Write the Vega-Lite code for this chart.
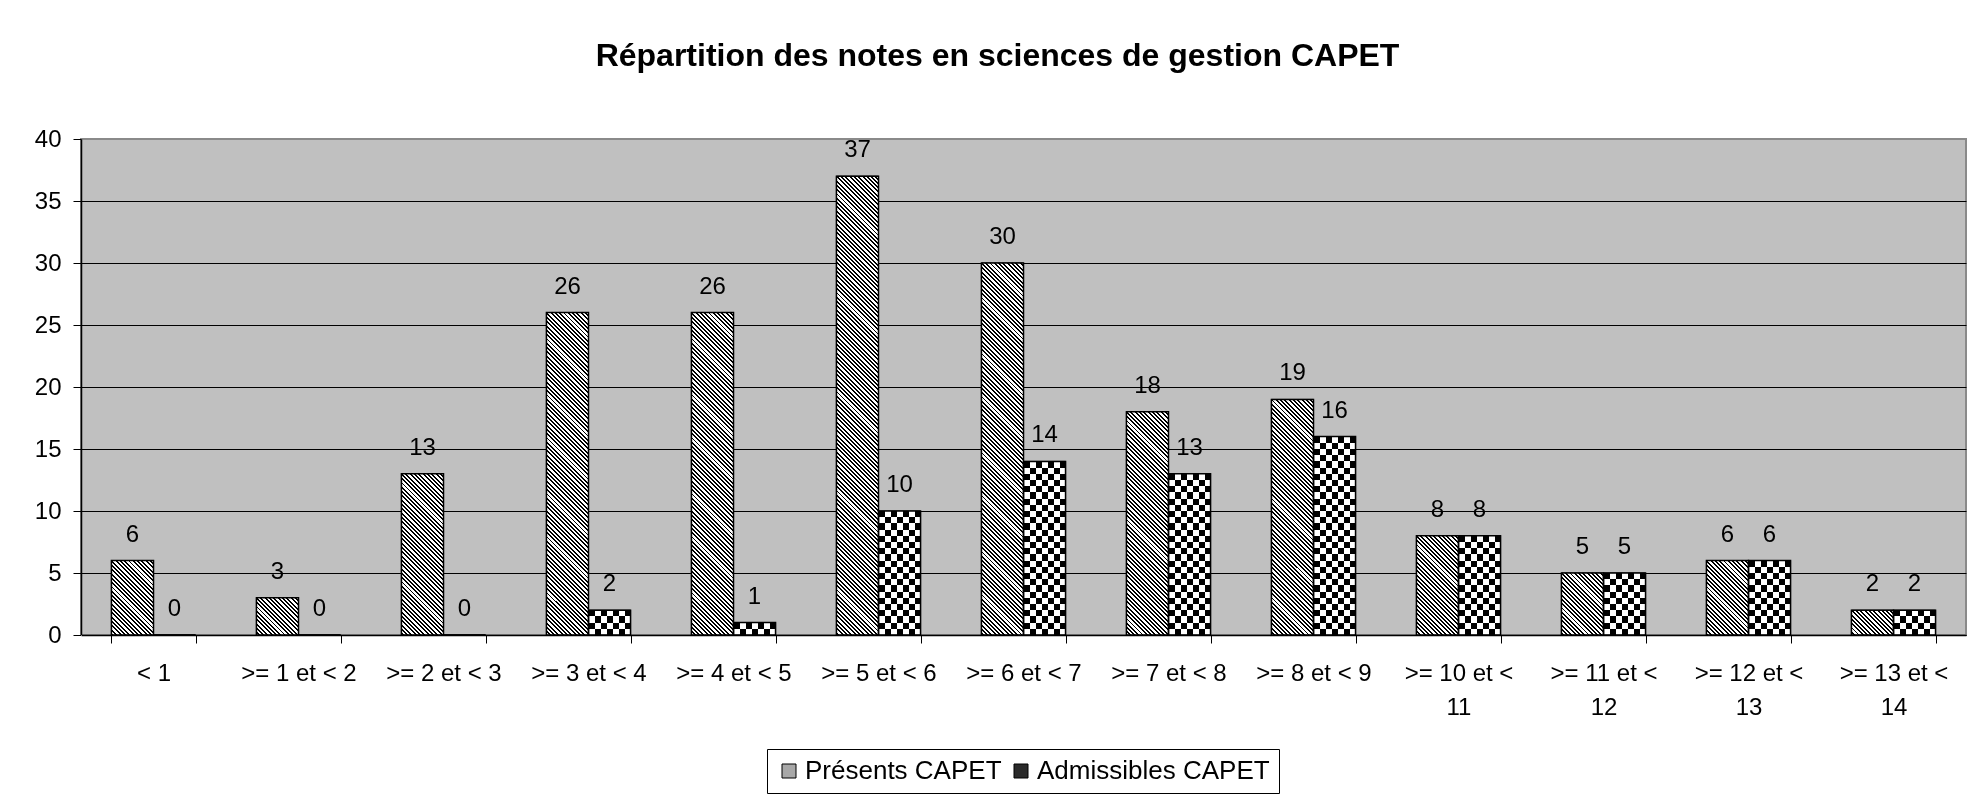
{
"$schema": "https://vega.github.io/schema/vega-lite/v6.json",
"width": 1885,
"height": 496,
"autosize": {"type": "none"},
"padding": {"left": 81, "top": 139, "right": 2, "bottom": 165},
"background": "white",
"title": {"text": "Répartition des notes en sciences de gestion CAPET", "font": "Liberation Sans", "fontSize": 32, "fontWeight": "bold", "color": "black", "anchor": "middle", "frame": "group", "baseline": "alphabetic", "offset": 29, "dx": -26},
"data": {"values": [
{"cat": "< 1", "series": "Présents CAPET", "value": 6},
{"cat": "< 1", "series": "Admissibles CAPET", "value": 0},
{"cat": ">= 1 et < 2", "series": "Présents CAPET", "value": 3},
{"cat": ">= 1 et < 2", "series": "Admissibles CAPET", "value": 0},
{"cat": ">= 2 et < 3", "series": "Présents CAPET", "value": 13},
{"cat": ">= 2 et < 3", "series": "Admissibles CAPET", "value": 0},
{"cat": ">= 3 et < 4", "series": "Présents CAPET", "value": 26},
{"cat": ">= 3 et < 4", "series": "Admissibles CAPET", "value": 2},
{"cat": ">= 4 et < 5", "series": "Présents CAPET", "value": 26},
{"cat": ">= 4 et < 5", "series": "Admissibles CAPET", "value": 1},
{"cat": ">= 5 et < 6", "series": "Présents CAPET", "value": 37},
{"cat": ">= 5 et < 6", "series": "Admissibles CAPET", "value": 10},
{"cat": ">= 6 et < 7", "series": "Présents CAPET", "value": 30},
{"cat": ">= 6 et < 7", "series": "Admissibles CAPET", "value": 14},
{"cat": ">= 7 et < 8", "series": "Présents CAPET", "value": 18},
{"cat": ">= 7 et < 8", "series": "Admissibles CAPET", "value": 13},
{"cat": ">= 8 et < 9", "series": "Présents CAPET", "value": 19},
{"cat": ">= 8 et < 9", "series": "Admissibles CAPET", "value": 16},
{"cat": ">= 10 et < 11", "series": "Présents CAPET", "value": 8},
{"cat": ">= 10 et < 11", "series": "Admissibles CAPET", "value": 8},
{"cat": ">= 11 et < 12", "series": "Présents CAPET", "value": 5},
{"cat": ">= 11 et < 12", "series": "Admissibles CAPET", "value": 5},
{"cat": ">= 12 et < 13", "series": "Présents CAPET", "value": 6},
{"cat": ">= 12 et < 13", "series": "Admissibles CAPET", "value": 6},
{"cat": ">= 13 et < 14", "series": "Présents CAPET", "value": 2},
{"cat": ">= 13 et < 14", "series": "Admissibles CAPET", "value": 2}
]},
"layer": [
{
"mark": {"type": "bar", "stroke": "black", "strokeWidth": 1},
"encoding": {
"x": {"field": "cat", "type": "nominal", "sort": null, "scale": {"paddingInner": 0.42, "paddingOuter": 0.21},
"axis": {"title": null, "tickBand": "extent", "labelAngle": 0, "labelFont": "Liberation Sans", "labelFontSize": 24, "labelColor": "black", "labelPadding": 18, "labelBaseline": "top", "labelLineHeight": 34, "tickSize": 8, "tickColor": "black", "domainColor": "black", "domainWidth": 1.5, "labelLimit": 0, "zindex": 1, "grid": false,
"labelExpr": "length(datum.label) > 11 ? [slice(datum.label, 0, length(datum.label) - 3), slice(datum.label, -2)] : datum.label"}},
"xOffset": {"field": "series", "type": "nominal", "sort": ["Présents CAPET", "Admissibles CAPET"]},
"y": {"field": "value", "type": "quantitative", "scale": {"domain": [0, 40], "nice": false},
"axis": {"title": null, "values": [0, 5, 10, 15, 20, 25, 30, 35, 40], "labelFont": "Liberation Sans", "labelFontSize": 24, "labelColor": "black", "labelPadding": 12, "tickSize": 8, "tickColor": "black", "domainColor": "black", "domainWidth": 1.5, "grid": true, "gridWidth": 1, "gridColor": {"condition": {"test": "datum.value == 40", "value": "#8a8a8a"}, "value": "black"}, "zindex": 0}},
"color": {"field": "series", "type": "nominal", "sort": ["Présents CAPET", "Admissibles CAPET"],
"scale": {"range": ["#a8a8a8", "#2a2a2a"]},
"legend": {"title": null, "orient": "none", "legendX": 686, "legendY": 610, "zindex": 2, "direction": "horizontal", "symbolType": "square", "symbolSize": 196, "symbolStrokeColor": "black", "symbolStrokeWidth": 1, "labelFont": "Liberation Sans", "labelFontSize": 26, "labelColor": "black", "labelLimit": 0, "strokeColor": "black", "fillColor": "white", "padding": 9, "columnPadding": 6, "labelOffset": 3}}
}
},
{
"transform": [{"filter": "datum.series == 'Présents CAPET'"}],
"mark": {"type": "bar", "fill": "white", "strokeWidth": 0},
"encoding": {
"x": {"field": "cat", "type": "nominal", "sort": null},
"xOffset": {"field": "series", "type": "nominal", "sort": ["Présents CAPET", "Admissibles CAPET"]},
"y": {"field": "value", "type": "quantitative"}
}
},
{
"transform": [{"filter": "datum.series == 'Admissibles CAPET'"}],
"mark": {"type": "bar", "strokeWidth": 0, "fill": {"gradient": "linear", "x1": 0, "y1": 0, "x2": 1, "y2": 0, "stops": [{"offset": 0, "color": "#000"}, {"offset": 0.142857, "color": "#000"}, {"offset": 0.142857, "color": "#fff"}, {"offset": 0.285714, "color": "#fff"}, {"offset": 0.285714, "color": "#000"}, {"offset": 0.428571, "color": "#000"}, {"offset": 0.428571, "color": "#fff"}, {"offset": 0.571429, "color": "#fff"}, {"offset": 0.571429, "color": "#000"}, {"offset": 0.714286, "color": "#000"}, {"offset": 0.714286, "color": "#fff"}, {"offset": 0.857143, "color": "#fff"}, {"offset": 0.857143, "color": "#000"}, {"offset": 1, "color": "#000"}]}},
"encoding": {
"x": {"field": "cat", "type": "nominal", "sort": null},
"xOffset": {"field": "series", "type": "nominal", "sort": ["Présents CAPET", "Admissibles CAPET"]},
"y": {"field": "value", "type": "quantitative"}
}
},
{
"transform": [{"filter": "datum.series == 'Présents CAPET' && datum.value > 0"}],
"mark": {"type": "rect", "blend": "difference", "y2Offset": 496, "strokeWidth": 0, "fill": {"gradient": "linear", "x1": 0, "y1": 1, "x2": 0.0913, "y2": -0.077, "stops": [
{"offset":0,"color":"#fff"},{"offset":0.0036,"color":"#fff"},{"offset":0.0036,"color":"#000"},{"offset":0.008,"color":"#000"},
{"offset":0.008,"color":"#fff"},{"offset":0.0116,"color":"#fff"},{"offset":0.0116,"color":"#000"},{"offset":0.016,"color":"#000"},
{"offset":0.016,"color":"#fff"},{"offset":0.0196,"color":"#fff"},{"offset":0.0196,"color":"#000"},{"offset":0.024,"color":"#000"},
{"offset":0.024,"color":"#fff"},{"offset":0.0276,"color":"#fff"},{"offset":0.0276,"color":"#000"},{"offset":0.032,"color":"#000"},
{"offset":0.032,"color":"#fff"},{"offset":0.0356,"color":"#fff"},{"offset":0.0356,"color":"#000"},{"offset":0.04,"color":"#000"},
{"offset":0.04,"color":"#fff"},{"offset":0.0436,"color":"#fff"},{"offset":0.0436,"color":"#000"},{"offset":0.048,"color":"#000"},
{"offset":0.048,"color":"#fff"},{"offset":0.0516,"color":"#fff"},{"offset":0.0516,"color":"#000"},{"offset":0.056,"color":"#000"},
{"offset":0.056,"color":"#fff"},{"offset":0.0596,"color":"#fff"},{"offset":0.0596,"color":"#000"},{"offset":0.064,"color":"#000"},
{"offset":0.064,"color":"#fff"},{"offset":0.0676,"color":"#fff"},{"offset":0.0676,"color":"#000"},{"offset":0.072,"color":"#000"},
{"offset":0.072,"color":"#fff"},{"offset":0.0756,"color":"#fff"},{"offset":0.0756,"color":"#000"},{"offset":0.08,"color":"#000"},
{"offset":0.08,"color":"#fff"},{"offset":0.0836,"color":"#fff"},{"offset":0.0836,"color":"#000"},{"offset":0.088,"color":"#000"},
{"offset":0.088,"color":"#fff"},{"offset":0.0916,"color":"#fff"},{"offset":0.0916,"color":"#000"},{"offset":0.096,"color":"#000"},
{"offset":0.096,"color":"#fff"},{"offset":0.0996,"color":"#fff"},{"offset":0.0996,"color":"#000"},{"offset":0.104,"color":"#000"},
{"offset":0.104,"color":"#fff"},{"offset":0.1076,"color":"#fff"},{"offset":0.1076,"color":"#000"},{"offset":0.112,"color":"#000"},
{"offset":0.112,"color":"#fff"},{"offset":0.1156,"color":"#fff"},{"offset":0.1156,"color":"#000"},{"offset":0.12,"color":"#000"},
{"offset":0.12,"color":"#fff"},{"offset":0.1236,"color":"#fff"},{"offset":0.1236,"color":"#000"},{"offset":0.128,"color":"#000"},
{"offset":0.128,"color":"#fff"},{"offset":0.1316,"color":"#fff"},{"offset":0.1316,"color":"#000"},{"offset":0.136,"color":"#000"},
{"offset":0.136,"color":"#fff"},{"offset":0.1396,"color":"#fff"},{"offset":0.1396,"color":"#000"},{"offset":0.144,"color":"#000"},
{"offset":0.144,"color":"#fff"},{"offset":0.1476,"color":"#fff"},{"offset":0.1476,"color":"#000"},{"offset":0.152,"color":"#000"},
{"offset":0.152,"color":"#fff"},{"offset":0.1556,"color":"#fff"},{"offset":0.1556,"color":"#000"},{"offset":0.16,"color":"#000"},
{"offset":0.16,"color":"#fff"},{"offset":0.1636,"color":"#fff"},{"offset":0.1636,"color":"#000"},{"offset":0.168,"color":"#000"},
{"offset":0.168,"color":"#fff"},{"offset":0.1716,"color":"#fff"},{"offset":0.1716,"color":"#000"},{"offset":0.176,"color":"#000"},
{"offset":0.176,"color":"#fff"},{"offset":0.1796,"color":"#fff"},{"offset":0.1796,"color":"#000"},{"offset":0.184,"color":"#000"},
{"offset":0.184,"color":"#fff"},{"offset":0.1876,"color":"#fff"},{"offset":0.1876,"color":"#000"},{"offset":0.192,"color":"#000"},
{"offset":0.192,"color":"#fff"},{"offset":0.1956,"color":"#fff"},{"offset":0.1956,"color":"#000"},{"offset":0.2,"color":"#000"},
{"offset":0.2,"color":"#fff"},{"offset":0.2036,"color":"#fff"},{"offset":0.2036,"color":"#000"},{"offset":0.208,"color":"#000"},
{"offset":0.208,"color":"#fff"},{"offset":0.2116,"color":"#fff"},{"offset":0.2116,"color":"#000"},{"offset":0.216,"color":"#000"},
{"offset":0.216,"color":"#fff"},{"offset":0.2196,"color":"#fff"},{"offset":0.2196,"color":"#000"},{"offset":0.224,"color":"#000"},
{"offset":0.224,"color":"#fff"},{"offset":0.2276,"color":"#fff"},{"offset":0.2276,"color":"#000"},{"offset":0.232,"color":"#000"},
{"offset":0.232,"color":"#fff"},{"offset":0.2356,"color":"#fff"},{"offset":0.2356,"color":"#000"},{"offset":0.24,"color":"#000"},
{"offset":0.24,"color":"#fff"},{"offset":0.2436,"color":"#fff"},{"offset":0.2436,"color":"#000"},{"offset":0.248,"color":"#000"},
{"offset":0.248,"color":"#fff"},{"offset":0.2516,"color":"#fff"},{"offset":0.2516,"color":"#000"},{"offset":0.256,"color":"#000"},
{"offset":0.256,"color":"#fff"},{"offset":0.2596,"color":"#fff"},{"offset":0.2596,"color":"#000"},{"offset":0.264,"color":"#000"},
{"offset":0.264,"color":"#fff"},{"offset":0.2676,"color":"#fff"},{"offset":0.2676,"color":"#000"},{"offset":0.272,"color":"#000"},
{"offset":0.272,"color":"#fff"},{"offset":0.2756,"color":"#fff"},{"offset":0.2756,"color":"#000"},{"offset":0.28,"color":"#000"},
{"offset":0.28,"color":"#fff"},{"offset":0.2836,"color":"#fff"},{"offset":0.2836,"color":"#000"},{"offset":0.288,"color":"#000"},
{"offset":0.288,"color":"#fff"},{"offset":0.2916,"color":"#fff"},{"offset":0.2916,"color":"#000"},{"offset":0.296,"color":"#000"},
{"offset":0.296,"color":"#fff"},{"offset":0.2996,"color":"#fff"},{"offset":0.2996,"color":"#000"},{"offset":0.304,"color":"#000"},
{"offset":0.304,"color":"#fff"},{"offset":0.3076,"color":"#fff"},{"offset":0.3076,"color":"#000"},{"offset":0.312,"color":"#000"},
{"offset":0.312,"color":"#fff"},{"offset":0.3156,"color":"#fff"},{"offset":0.3156,"color":"#000"},{"offset":0.32,"color":"#000"},
{"offset":0.32,"color":"#fff"},{"offset":0.3236,"color":"#fff"},{"offset":0.3236,"color":"#000"},{"offset":0.328,"color":"#000"},
{"offset":0.328,"color":"#fff"},{"offset":0.3316,"color":"#fff"},{"offset":0.3316,"color":"#000"},{"offset":0.336,"color":"#000"},
{"offset":0.336,"color":"#fff"},{"offset":0.3396,"color":"#fff"},{"offset":0.3396,"color":"#000"},{"offset":0.344,"color":"#000"},
{"offset":0.344,"color":"#fff"},{"offset":0.3476,"color":"#fff"},{"offset":0.3476,"color":"#000"},{"offset":0.352,"color":"#000"},
{"offset":0.352,"color":"#fff"},{"offset":0.3556,"color":"#fff"},{"offset":0.3556,"color":"#000"},{"offset":0.36,"color":"#000"},
{"offset":0.36,"color":"#fff"},{"offset":0.3636,"color":"#fff"},{"offset":0.3636,"color":"#000"},{"offset":0.368,"color":"#000"},
{"offset":0.368,"color":"#fff"},{"offset":0.3716,"color":"#fff"},{"offset":0.3716,"color":"#000"},{"offset":0.376,"color":"#000"},
{"offset":0.376,"color":"#fff"},{"offset":0.3796,"color":"#fff"},{"offset":0.3796,"color":"#000"},{"offset":0.384,"color":"#000"},
{"offset":0.384,"color":"#fff"},{"offset":0.3876,"color":"#fff"},{"offset":0.3876,"color":"#000"},{"offset":0.392,"color":"#000"},
{"offset":0.392,"color":"#fff"},{"offset":0.3956,"color":"#fff"},{"offset":0.3956,"color":"#000"},{"offset":0.4,"color":"#000"},
{"offset":0.4,"color":"#fff"},{"offset":0.4036,"color":"#fff"},{"offset":0.4036,"color":"#000"},{"offset":0.408,"color":"#000"},
{"offset":0.408,"color":"#fff"},{"offset":0.4116,"color":"#fff"},{"offset":0.4116,"color":"#000"},{"offset":0.416,"color":"#000"},
{"offset":0.416,"color":"#fff"},{"offset":0.4196,"color":"#fff"},{"offset":0.4196,"color":"#000"},{"offset":0.424,"color":"#000"},
{"offset":0.424,"color":"#fff"},{"offset":0.4276,"color":"#fff"},{"offset":0.4276,"color":"#000"},{"offset":0.432,"color":"#000"},
{"offset":0.432,"color":"#fff"},{"offset":0.4356,"color":"#fff"},{"offset":0.4356,"color":"#000"},{"offset":0.44,"color":"#000"},
{"offset":0.44,"color":"#fff"},{"offset":0.4436,"color":"#fff"},{"offset":0.4436,"color":"#000"},{"offset":0.448,"color":"#000"},
{"offset":0.448,"color":"#fff"},{"offset":0.4516,"color":"#fff"},{"offset":0.4516,"color":"#000"},{"offset":0.456,"color":"#000"},
{"offset":0.456,"color":"#fff"},{"offset":0.4596,"color":"#fff"},{"offset":0.4596,"color":"#000"},{"offset":0.464,"color":"#000"},
{"offset":0.464,"color":"#fff"},{"offset":0.4676,"color":"#fff"},{"offset":0.4676,"color":"#000"},{"offset":0.472,"color":"#000"},
{"offset":0.472,"color":"#fff"},{"offset":0.4756,"color":"#fff"},{"offset":0.4756,"color":"#000"},{"offset":0.48,"color":"#000"},
{"offset":0.48,"color":"#fff"},{"offset":0.4836,"color":"#fff"},{"offset":0.4836,"color":"#000"},{"offset":0.488,"color":"#000"},
{"offset":0.488,"color":"#fff"},{"offset":0.4916,"color":"#fff"},{"offset":0.4916,"color":"#000"},{"offset":0.496,"color":"#000"},
{"offset":0.496,"color":"#fff"},{"offset":0.4996,"color":"#fff"},{"offset":0.4996,"color":"#000"},{"offset":0.504,"color":"#000"},
{"offset":0.504,"color":"#fff"},{"offset":0.5076,"color":"#fff"},{"offset":0.5076,"color":"#000"},{"offset":0.512,"color":"#000"},
{"offset":0.512,"color":"#fff"},{"offset":0.5156,"color":"#fff"},{"offset":0.5156,"color":"#000"},{"offset":0.52,"color":"#000"},
{"offset":0.52,"color":"#fff"},{"offset":0.5236,"color":"#fff"},{"offset":0.5236,"color":"#000"},{"offset":0.528,"color":"#000"},
{"offset":0.528,"color":"#fff"},{"offset":0.5316,"color":"#fff"},{"offset":0.5316,"color":"#000"},{"offset":0.536,"color":"#000"},
{"offset":0.536,"color":"#fff"},{"offset":0.5396,"color":"#fff"},{"offset":0.5396,"color":"#000"},{"offset":0.544,"color":"#000"},
{"offset":0.544,"color":"#fff"},{"offset":0.5476,"color":"#fff"},{"offset":0.5476,"color":"#000"},{"offset":0.552,"color":"#000"},
{"offset":0.552,"color":"#fff"},{"offset":0.5556,"color":"#fff"},{"offset":0.5556,"color":"#000"},{"offset":0.56,"color":"#000"},
{"offset":0.56,"color":"#fff"},{"offset":0.5636,"color":"#fff"},{"offset":0.5636,"color":"#000"},{"offset":0.568,"color":"#000"},
{"offset":0.568,"color":"#fff"},{"offset":0.5716,"color":"#fff"},{"offset":0.5716,"color":"#000"},{"offset":0.576,"color":"#000"},
{"offset":0.576,"color":"#fff"},{"offset":0.5796,"color":"#fff"},{"offset":0.5796,"color":"#000"},{"offset":0.584,"color":"#000"},
{"offset":0.584,"color":"#fff"},{"offset":0.5876,"color":"#fff"},{"offset":0.5876,"color":"#000"},{"offset":0.592,"color":"#000"},
{"offset":0.592,"color":"#fff"},{"offset":0.5956,"color":"#fff"},{"offset":0.5956,"color":"#000"},{"offset":0.6,"color":"#000"},
{"offset":0.6,"color":"#fff"},{"offset":0.6036,"color":"#fff"},{"offset":0.6036,"color":"#000"},{"offset":0.608,"color":"#000"},
{"offset":0.608,"color":"#fff"},{"offset":0.6116,"color":"#fff"},{"offset":0.6116,"color":"#000"},{"offset":0.616,"color":"#000"},
{"offset":0.616,"color":"#fff"},{"offset":0.6196,"color":"#fff"},{"offset":0.6196,"color":"#000"},{"offset":0.624,"color":"#000"},
{"offset":0.624,"color":"#fff"},{"offset":0.6276,"color":"#fff"},{"offset":0.6276,"color":"#000"},{"offset":0.632,"color":"#000"},
{"offset":0.632,"color":"#fff"},{"offset":0.6356,"color":"#fff"},{"offset":0.6356,"color":"#000"},{"offset":0.64,"color":"#000"},
{"offset":0.64,"color":"#fff"},{"offset":0.6436,"color":"#fff"},{"offset":0.6436,"color":"#000"},{"offset":0.648,"color":"#000"},
{"offset":0.648,"color":"#fff"},{"offset":0.6516,"color":"#fff"},{"offset":0.6516,"color":"#000"},{"offset":0.656,"color":"#000"},
{"offset":0.656,"color":"#fff"},{"offset":0.6596,"color":"#fff"},{"offset":0.6596,"color":"#000"},{"offset":0.664,"color":"#000"},
{"offset":0.664,"color":"#fff"},{"offset":0.6676,"color":"#fff"},{"offset":0.6676,"color":"#000"},{"offset":0.672,"color":"#000"},
{"offset":0.672,"color":"#fff"},{"offset":0.6756,"color":"#fff"},{"offset":0.6756,"color":"#000"},{"offset":0.68,"color":"#000"},
{"offset":0.68,"color":"#fff"},{"offset":0.6836,"color":"#fff"},{"offset":0.6836,"color":"#000"},{"offset":0.688,"color":"#000"},
{"offset":0.688,"color":"#fff"},{"offset":0.6916,"color":"#fff"},{"offset":0.6916,"color":"#000"},{"offset":0.696,"color":"#000"},
{"offset":0.696,"color":"#fff"},{"offset":0.6996,"color":"#fff"},{"offset":0.6996,"color":"#000"},{"offset":0.704,"color":"#000"},
{"offset":0.704,"color":"#fff"},{"offset":0.7076,"color":"#fff"},{"offset":0.7076,"color":"#000"},{"offset":0.712,"color":"#000"},
{"offset":0.712,"color":"#fff"},{"offset":0.7156,"color":"#fff"},{"offset":0.7156,"color":"#000"},{"offset":0.72,"color":"#000"},
{"offset":0.72,"color":"#fff"},{"offset":0.7236,"color":"#fff"},{"offset":0.7236,"color":"#000"},{"offset":0.728,"color":"#000"},
{"offset":0.728,"color":"#fff"},{"offset":0.7316,"color":"#fff"},{"offset":0.7316,"color":"#000"},{"offset":0.736,"color":"#000"},
{"offset":0.736,"color":"#fff"},{"offset":0.7396,"color":"#fff"},{"offset":0.7396,"color":"#000"},{"offset":0.744,"color":"#000"},
{"offset":0.744,"color":"#fff"},{"offset":0.7476,"color":"#fff"},{"offset":0.7476,"color":"#000"},{"offset":0.752,"color":"#000"},
{"offset":0.752,"color":"#fff"},{"offset":0.7556,"color":"#fff"},{"offset":0.7556,"color":"#000"},{"offset":0.76,"color":"#000"},
{"offset":0.76,"color":"#fff"},{"offset":0.7636,"color":"#fff"},{"offset":0.7636,"color":"#000"},{"offset":0.768,"color":"#000"},
{"offset":0.768,"color":"#fff"},{"offset":0.7716,"color":"#fff"},{"offset":0.7716,"color":"#000"},{"offset":0.776,"color":"#000"},
{"offset":0.776,"color":"#fff"},{"offset":0.7796,"color":"#fff"},{"offset":0.7796,"color":"#000"},{"offset":0.784,"color":"#000"},
{"offset":0.784,"color":"#fff"},{"offset":0.7876,"color":"#fff"},{"offset":0.7876,"color":"#000"},{"offset":0.792,"color":"#000"},
{"offset":0.792,"color":"#fff"},{"offset":0.7956,"color":"#fff"},{"offset":0.7956,"color":"#000"},{"offset":0.8,"color":"#000"},
{"offset":0.8,"color":"#fff"},{"offset":0.8036,"color":"#fff"},{"offset":0.8036,"color":"#000"},{"offset":0.808,"color":"#000"},
{"offset":0.808,"color":"#fff"},{"offset":0.8116,"color":"#fff"},{"offset":0.8116,"color":"#000"},{"offset":0.816,"color":"#000"},
{"offset":0.816,"color":"#fff"},{"offset":0.8196,"color":"#fff"},{"offset":0.8196,"color":"#000"},{"offset":0.824,"color":"#000"},
{"offset":0.824,"color":"#fff"},{"offset":0.8276,"color":"#fff"},{"offset":0.8276,"color":"#000"},{"offset":0.832,"color":"#000"},
{"offset":0.832,"color":"#fff"},{"offset":0.8356,"color":"#fff"},{"offset":0.8356,"color":"#000"},{"offset":0.84,"color":"#000"},
{"offset":0.84,"color":"#fff"},{"offset":0.8436,"color":"#fff"},{"offset":0.8436,"color":"#000"},{"offset":0.848,"color":"#000"},
{"offset":0.848,"color":"#fff"},{"offset":0.8516,"color":"#fff"},{"offset":0.8516,"color":"#000"},{"offset":0.856,"color":"#000"},
{"offset":0.856,"color":"#fff"},{"offset":0.8596,"color":"#fff"},{"offset":0.8596,"color":"#000"},{"offset":0.864,"color":"#000"},
{"offset":0.864,"color":"#fff"},{"offset":0.8676,"color":"#fff"},{"offset":0.8676,"color":"#000"},{"offset":0.872,"color":"#000"},
{"offset":0.872,"color":"#fff"},{"offset":0.8756,"color":"#fff"},{"offset":0.8756,"color":"#000"},{"offset":0.88,"color":"#000"},
{"offset":0.88,"color":"#fff"},{"offset":0.8836,"color":"#fff"},{"offset":0.8836,"color":"#000"},{"offset":0.888,"color":"#000"},
{"offset":0.888,"color":"#fff"},{"offset":0.8916,"color":"#fff"},{"offset":0.8916,"color":"#000"},{"offset":0.896,"color":"#000"},
{"offset":0.896,"color":"#fff"},{"offset":0.8996,"color":"#fff"},{"offset":0.8996,"color":"#000"},{"offset":0.904,"color":"#000"},
{"offset":0.904,"color":"#fff"},{"offset":0.9076,"color":"#fff"},{"offset":0.9076,"color":"#000"},{"offset":0.912,"color":"#000"},
{"offset":0.912,"color":"#fff"},{"offset":0.9156,"color":"#fff"},{"offset":0.9156,"color":"#000"},{"offset":0.92,"color":"#000"},
{"offset":0.92,"color":"#fff"},{"offset":0.9236,"color":"#fff"},{"offset":0.9236,"color":"#000"},{"offset":0.928,"color":"#000"},
{"offset":0.928,"color":"#fff"},{"offset":0.9316,"color":"#fff"},{"offset":0.9316,"color":"#000"},{"offset":0.936,"color":"#000"},
{"offset":0.936,"color":"#fff"},{"offset":0.9396,"color":"#fff"},{"offset":0.9396,"color":"#000"},{"offset":0.944,"color":"#000"},
{"offset":0.944,"color":"#fff"},{"offset":0.9476,"color":"#fff"},{"offset":0.9476,"color":"#000"},{"offset":0.952,"color":"#000"},
{"offset":0.952,"color":"#fff"},{"offset":0.9556,"color":"#fff"},{"offset":0.9556,"color":"#000"},{"offset":0.96,"color":"#000"},
{"offset":0.96,"color":"#fff"},{"offset":0.9636,"color":"#fff"},{"offset":0.9636,"color":"#000"},{"offset":0.968,"color":"#000"},
{"offset":0.968,"color":"#fff"},{"offset":0.9716,"color":"#fff"},{"offset":0.9716,"color":"#000"},{"offset":0.976,"color":"#000"},
{"offset":0.976,"color":"#fff"},{"offset":0.9796,"color":"#fff"},{"offset":0.9796,"color":"#000"},{"offset":0.984,"color":"#000"},
{"offset":0.984,"color":"#fff"},{"offset":0.9876,"color":"#fff"},{"offset":0.9876,"color":"#000"},{"offset":0.992,"color":"#000"},
{"offset":0.992,"color":"#fff"},{"offset":0.9956,"color":"#fff"},{"offset":0.9956,"color":"#000"},{"offset":1,"color":"#000"}
]}},
"encoding": {
"x": {"field": "cat", "type": "nominal", "sort": null},
"xOffset": {"field": "series", "type": "nominal", "sort": ["Présents CAPET", "Admissibles CAPET"]},
"y": {"field": "value", "type": "quantitative"},
"y2": {"field": "value"}
}
},
{
"transform": [{"filter": "datum.series == 'Admissibles CAPET' && datum.value > 0"}],
"mark": {"type": "rect", "blend": "difference", "y2Offset": 496, "strokeWidth": 0, "fill": {"gradient": "linear", "x1": 0, "y1": 0, "x2": 0, "y2": 1, "stops": [
{"offset":0,"color":"#000"},
{"offset":0.0125,"color":"#000"},{"offset":0.0125,"color":"#fff"},{"offset":0.025,"color":"#fff"},{"offset":0.025,"color":"#000"},
{"offset":0.0375,"color":"#000"},{"offset":0.0375,"color":"#fff"},{"offset":0.05,"color":"#fff"},{"offset":0.05,"color":"#000"},
{"offset":0.0625,"color":"#000"},{"offset":0.0625,"color":"#fff"},{"offset":0.075,"color":"#fff"},{"offset":0.075,"color":"#000"},
{"offset":0.0875,"color":"#000"},{"offset":0.0875,"color":"#fff"},{"offset":0.1,"color":"#fff"},{"offset":0.1,"color":"#000"},
{"offset":0.1125,"color":"#000"},{"offset":0.1125,"color":"#fff"},{"offset":0.125,"color":"#fff"},{"offset":0.125,"color":"#000"},
{"offset":0.1375,"color":"#000"},{"offset":0.1375,"color":"#fff"},{"offset":0.15,"color":"#fff"},{"offset":0.15,"color":"#000"},
{"offset":0.1625,"color":"#000"},{"offset":0.1625,"color":"#fff"},{"offset":0.175,"color":"#fff"},{"offset":0.175,"color":"#000"},
{"offset":0.1875,"color":"#000"},{"offset":0.1875,"color":"#fff"},{"offset":0.2,"color":"#fff"},{"offset":0.2,"color":"#000"},
{"offset":0.2125,"color":"#000"},{"offset":0.2125,"color":"#fff"},{"offset":0.225,"color":"#fff"},{"offset":0.225,"color":"#000"},
{"offset":0.2375,"color":"#000"},{"offset":0.2375,"color":"#fff"},{"offset":0.25,"color":"#fff"},{"offset":0.25,"color":"#000"},
{"offset":0.2625,"color":"#000"},{"offset":0.2625,"color":"#fff"},{"offset":0.275,"color":"#fff"},{"offset":0.275,"color":"#000"},
{"offset":0.2875,"color":"#000"},{"offset":0.2875,"color":"#fff"},{"offset":0.3,"color":"#fff"},{"offset":0.3,"color":"#000"},
{"offset":0.3125,"color":"#000"},{"offset":0.3125,"color":"#fff"},{"offset":0.325,"color":"#fff"},{"offset":0.325,"color":"#000"},
{"offset":0.3375,"color":"#000"},{"offset":0.3375,"color":"#fff"},{"offset":0.35,"color":"#fff"},{"offset":0.35,"color":"#000"},
{"offset":0.3625,"color":"#000"},{"offset":0.3625,"color":"#fff"},{"offset":0.375,"color":"#fff"},{"offset":0.375,"color":"#000"},
{"offset":0.3875,"color":"#000"},{"offset":0.3875,"color":"#fff"},{"offset":0.4,"color":"#fff"},{"offset":0.4,"color":"#000"},
{"offset":0.4125,"color":"#000"},{"offset":0.4125,"color":"#fff"},{"offset":0.425,"color":"#fff"},{"offset":0.425,"color":"#000"},
{"offset":0.4375,"color":"#000"},{"offset":0.4375,"color":"#fff"},{"offset":0.45,"color":"#fff"},{"offset":0.45,"color":"#000"},
{"offset":0.4625,"color":"#000"},{"offset":0.4625,"color":"#fff"},{"offset":0.475,"color":"#fff"},{"offset":0.475,"color":"#000"},
{"offset":0.4875,"color":"#000"},{"offset":0.4875,"color":"#fff"},{"offset":0.5,"color":"#fff"},{"offset":0.5,"color":"#000"},
{"offset":0.5125,"color":"#000"},{"offset":0.5125,"color":"#fff"},{"offset":0.525,"color":"#fff"},{"offset":0.525,"color":"#000"},
{"offset":0.5375,"color":"#000"},{"offset":0.5375,"color":"#fff"},{"offset":0.55,"color":"#fff"},{"offset":0.55,"color":"#000"},
{"offset":0.5625,"color":"#000"},{"offset":0.5625,"color":"#fff"},{"offset":0.575,"color":"#fff"},{"offset":0.575,"color":"#000"},
{"offset":0.5875,"color":"#000"},{"offset":0.5875,"color":"#fff"},{"offset":0.6,"color":"#fff"},{"offset":0.6,"color":"#000"},
{"offset":0.6125,"color":"#000"},{"offset":0.6125,"color":"#fff"},{"offset":0.625,"color":"#fff"},{"offset":0.625,"color":"#000"},
{"offset":0.6375,"color":"#000"},{"offset":0.6375,"color":"#fff"},{"offset":0.65,"color":"#fff"},{"offset":0.65,"color":"#000"},
{"offset":0.6625,"color":"#000"},{"offset":0.6625,"color":"#fff"},{"offset":0.675,"color":"#fff"},{"offset":0.675,"color":"#000"},
{"offset":0.6875,"color":"#000"},{"offset":0.6875,"color":"#fff"},{"offset":0.7,"color":"#fff"},{"offset":0.7,"color":"#000"},
{"offset":0.7125,"color":"#000"},{"offset":0.7125,"color":"#fff"},{"offset":0.725,"color":"#fff"},{"offset":0.725,"color":"#000"},
{"offset":0.7375,"color":"#000"},{"offset":0.7375,"color":"#fff"},{"offset":0.75,"color":"#fff"},{"offset":0.75,"color":"#000"},
{"offset":0.7625,"color":"#000"},{"offset":0.7625,"color":"#fff"},{"offset":0.775,"color":"#fff"},{"offset":0.775,"color":"#000"},
{"offset":0.7875,"color":"#000"},{"offset":0.7875,"color":"#fff"},{"offset":0.8,"color":"#fff"},{"offset":0.8,"color":"#000"},
{"offset":0.8125,"color":"#000"},{"offset":0.8125,"color":"#fff"},{"offset":0.825,"color":"#fff"},{"offset":0.825,"color":"#000"},
{"offset":0.8375,"color":"#000"},{"offset":0.8375,"color":"#fff"},{"offset":0.85,"color":"#fff"},{"offset":0.85,"color":"#000"},
{"offset":0.8625,"color":"#000"},{"offset":0.8625,"color":"#fff"},{"offset":0.875,"color":"#fff"},{"offset":0.875,"color":"#000"},
{"offset":0.8875,"color":"#000"},{"offset":0.8875,"color":"#fff"},{"offset":0.9,"color":"#fff"},{"offset":0.9,"color":"#000"},
{"offset":0.9125,"color":"#000"},{"offset":0.9125,"color":"#fff"},{"offset":0.925,"color":"#fff"},{"offset":0.925,"color":"#000"},
{"offset":0.9375,"color":"#000"},{"offset":0.9375,"color":"#fff"},{"offset":0.95,"color":"#fff"},{"offset":0.95,"color":"#000"},
{"offset":0.9625,"color":"#000"},{"offset":0.9625,"color":"#fff"},{"offset":0.975,"color":"#fff"},{"offset":0.975,"color":"#000"},
{"offset":0.9875,"color":"#000"},{"offset":0.9875,"color":"#fff"},{"offset":1,"color":"#fff"}
]}},
"encoding": {
"x": {"field": "cat", "type": "nominal", "sort": null},
"xOffset": {"field": "series", "type": "nominal", "sort": ["Présents CAPET", "Admissibles CAPET"]},
"y": {"field": "value", "type": "quantitative"},
"y2": {"field": "value"}
}
},
{
"data": {"values": [{}]},
"mark": {"type": "rect", "fill": "white", "strokeWidth": 0, "y2Offset": 170},
"encoding": {
"y": {"datum": 0, "type": "quantitative"},
"y2": {"datum": 0}
}
},
{
"mark": {"type": "bar", "fill": "white", "fillOpacity": 0, "stroke": "black", "strokeWidth": 1.5},
"encoding": {
"x": {"field": "cat", "type": "nominal", "sort": null},
"xOffset": {"field": "series", "type": "nominal", "sort": ["Présents CAPET", "Admissibles CAPET"]},
"y": {"field": "value", "type": "quantitative"}
}
},
{
"mark": {"type": "text", "font": "Liberation Sans", "fontSize": 24, "color": "black", "baseline": "alphabetic", "dy": -19},
"encoding": {
"x": {"field": "cat", "type": "nominal", "sort": null},
"xOffset": {"field": "series", "type": "nominal", "sort": ["Présents CAPET", "Admissibles CAPET"]},
"y": {"field": "value", "type": "quantitative"},
"text": {"field": "value", "type": "quantitative"}
}
}
],
"config": {
"font": "Liberation Sans",
"view": {"fill": "#c0c0c0", "stroke": "#8a8a8a", "strokeWidth": 2}
}
}
